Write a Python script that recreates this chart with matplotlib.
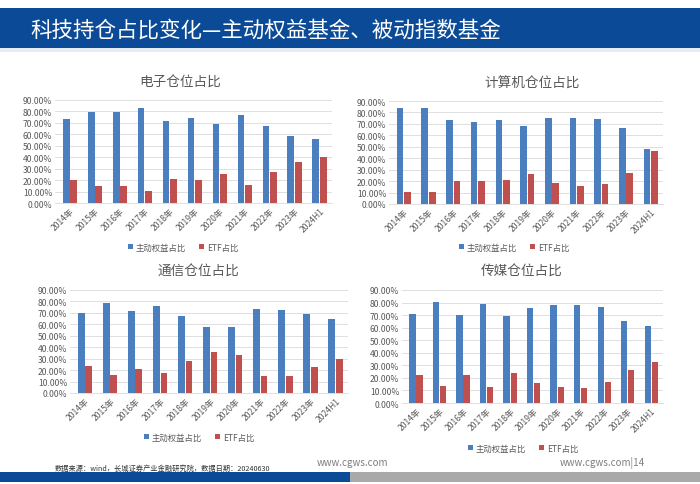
import numpy as np
import matplotlib
matplotlib.use("Agg")
import matplotlib.pyplot as plt
from matplotlib.patches import Rectangle
from matplotlib.ticker import FuncFormatter

plt.rcParams['font.family'] = ['Noto Sans CJK SC', 'DejaVu Sans']

# data (percent)
years = ["2014年", "2015年", "2016年", "2017年", "2018年", "2019年",
         "2020年", "2021年", "2022年", "2023年", "2024H1"]

dianzi_active = [73.8, 79.6, 79.6, 83.1, 71.4, 74.3, 69.1, 76.7, 67.3, 58.3, 56.3]
dianzi_etf = [20.4, 14.6, 14.6, 10.2, 21.0, 19.8, 25.1, 15.7, 26.8, 36.2, 39.9]

jisuanji_active = [84.2, 84.2, 73.2, 71.4, 73.8, 67.9, 74.9, 74.9, 74.3, 66.2, 47.8]
jisuanji_etf = [10.8, 10.8, 20.1, 20.1, 20.7, 26.5, 18.4, 15.5, 17.5, 27.1, 46.1]

tongxin_active = [70.0, 78.7, 71.7, 76.4, 67.6, 57.7, 57.7, 73.5, 72.9, 68.8, 64.7]
tongxin_etf = [23.6, 16.0, 20.7, 17.8, 27.7, 36.2, 33.5, 14.9, 14.9, 23.0, 29.7]

chuanmei_active = [70.7, 80.1, 69.7, 78.7, 69.1, 75.5, 78.2, 78.2, 76.6, 65.4, 61.2]
chuanmei_etf = [22.6, 13.6, 22.6, 13.0, 23.7, 16.0, 12.5, 12.0, 16.8, 26.3, 32.4]

BLUE = "#4a7ebf"
RED = "#c0504d"
GREY = "#595959"

fig = plt.figure(figsize=(7, 4.85), dpi=100)
fig.patch.set_facecolor("white")

# header band
fig.add_artist(Rectangle((0, 1 - 49 / 485), 1, 40 / 485, transform=fig.transFigure,
                         facecolor="#0b4a96", edgecolor="none"))
fig.add_artist(Rectangle((0, 1 - 53 / 485), 1, 4 / 485, transform=fig.transFigure,
                         facecolor="#e6ecf3", edgecolor="none"))
fig.text(30 / 700, 1 - 31 / 485, "科技持仓占比变化—主动权益基金、被动指数基金",
         color="white", fontsize=15.5, fontweight="medium", va="center", ha="left")

# footer
fig.add_artist(Rectangle((0, 1 - 483 / 485), 350 / 700, 10 / 485, transform=fig.transFigure,
                         facecolor="#0b4a96", edgecolor="none"))
fig.add_artist(Rectangle((350 / 700, 1 - 483 / 485), 350 / 700, 10 / 485,
                         transform=fig.transFigure, facecolor="#a9a9a9", edgecolor="none"))
fig.text(55 / 700, 1 - 469 / 485, "数据来源：wind，长城证券产业金融研究院，数据日期：20240630",
         color="#333333", fontsize=5.2, va="center", ha="left")
fig.text(352 / 700, 1 - 463 / 485, "www.cgws.com", color="#7f7f7f", fontsize=7,
         va="center", ha="center")
fig.text(645 / 700, 1 - 463 / 485, "www.cgws.com|14", color="#7f7f7f", fontsize=7,
         va="center", ha="right")


def draw(rect, title, title_xy, legend_xy, active, etf):
    ax = fig.add_axes(rect)
    x = np.arange(len(years))
    w = 0.27
    ax.bar(x - 0.15, active, w, color=BLUE, label="主动权益占比", zorder=3)
    ax.bar(x + 0.15, etf, w, color=RED, label="ETF占比", zorder=3)
    ax.set_ylim(0, 90)
    ax.set_xlim(-0.6, 10.5)
    ax.set_yticks(np.arange(0, 91, 10))
    ax.yaxis.set_major_formatter(FuncFormatter(lambda v, p: f"{v:.2f}%"))
    ax.set_xticks(x)
    ax.set_xticklabels(years, rotation=45, ha="right", rotation_mode="anchor")
    ax.tick_params(axis="both", length=0, labelsize=6.2, colors=GREY, pad=2)
    ax.grid(axis="y", color="#d9d9d9", linewidth=0.6, zorder=0)
    for s in ["top", "right", "left"]:
        ax.spines[s].set_visible(False)
    ax.spines["bottom"].set_color("#d9d9d9")
    ax.spines["bottom"].set_linewidth(0.6)
    ax.set_facecolor("none")
    fig.text(title_xy[0] / 700, 1 - title_xy[1] / 485, title, color=GREY,
             fontsize=9.8, ha="center", va="center")
    ax.legend(loc="center", bbox_to_anchor=(legend_xy[0] / 700, 1 - legend_xy[1] / 485),
              bbox_transform=fig.transFigure, ncol=2, frameon=False, fontsize=6,
              handlelength=0.6, handleheight=0.6, handletextpad=0.4, columnspacing=1.5,
              labelcolor=GREY)
    return ax


draw([55 / 700, 1 - 204 / 485, 277 / 700, 103 / 485], "电子仓位占比", (180, 83), (183, 248),
     dianzi_active, dianzi_etf)
draw([389 / 700, 1 - 205 / 485, 274 / 700, 103 / 485], "计算机仓位占比", (532, 84), (514, 248),
     jisuanji_active, jisuanji_etf)
draw([70 / 700, 1 - 394 / 485, 278 / 700, 103 / 485], "通信仓位占比", (198, 272), (199, 438),
     tongxin_active, tongxin_etf)
draw([402 / 700, 1 - 404 / 485, 261 / 700, 113 / 485], "传媒仓位占比", (522, 272), (523, 449),
     chuanmei_active, chuanmei_etf)

fig.savefig("out.png", dpi=100)
